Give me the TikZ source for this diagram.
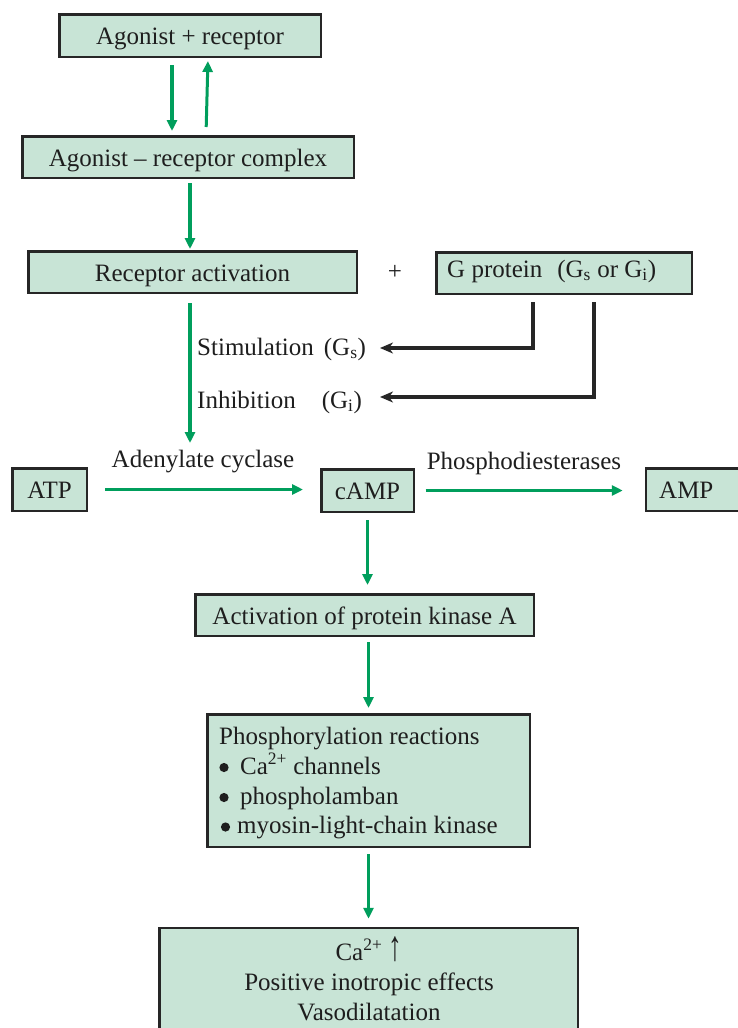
\documentclass[tikz,border=0pt]{standalone}
\usepackage{fontspec}
\setmainfont{Liberation Serif}
\usetikzlibrary{arrows.meta}
\definecolor{boxc}{RGB}{200,228,214}
\definecolor{grn}{RGB}{0,158,92}
\definecolor{bordc}{RGB}{38,38,38}
\definecolor{txtc}{RGB}{30,30,30}
\newcommand{\tallup}{\scalebox{1.1}[1.7]{↑}}
\begin{document}
\begin{tikzpicture}[x=1pt,y=-1pt, font=\fontsize{25}{30}\selectfont, text=txtc,
 box/.style={draw=bordc, line width=2.5pt, fill=boxc, inner sep=0pt, text height=18pt, text depth=0pt},
 garrow/.style={draw=grn, line width=3.5pt, -{Triangle[length=11pt,width=10pt]}},
 karrow/.style={draw=bordc, line width=3.5pt, -{Stealth[length=13pt,width=11pt,inset=4pt]}},
 lbl/.style={inner sep=0pt, anchor=base west},
 clbl/.style={inner sep=0pt, anchor=base},
 bul/.style={fill=txtc}]
\useasboundingbox[fill=white] (0,0) rectangle (737,1028);

\node[box, minimum width=261.5pt, minimum height=42.5pt] (b1) at (190,35.5) {Agonist + receptor};
\node[box, minimum width=331.5pt, minimum height=41.5pt] (b2) at (188,157) {Agonist – receptor complex};
\node[box, minimum width=328.5pt, minimum height=41.5pt] (b3) at (192.5,272) {Receptor activation};
\node[clbl] (plus) at (395,279) {+};
\node[box, minimum width=255.5pt, minimum height=41.5pt] (gp) at (564,273) {};
\node[lbl] (gpt) at (447,277) {G protein\hspace{15pt}(G\textsubscript{s} or G\textsubscript{i})};

\node[lbl] (stim) at (197,355) {Stimulation\hspace{10pt}(G\textsubscript{s})};
\node[lbl] (inh) at (197,408) {Inhibition\hspace{26pt}(G\textsubscript{i})};
\coordinate (acend) at (190,443);
\coordinate (stip) at (380,348);
\coordinate (itip) at (380,397);

\node[box, minimum width=74.5pt, minimum height=42.5pt] (atp) at (49.5,489.5) {ATP};
\node[box, minimum width=92.5pt, minimum height=42.5pt] (camp) at (367.5,490.5) {cAMP};
\node[box, minimum width=134pt, minimum height=42.5pt] (amp) at (713,489.5) {};
\node[lbl] (ampt) at (659,498.5) {AMP};
\node[clbl] (ac) at (203,467) {Adenylate cyclase};
\node[clbl] (pde) at (524,469) {Phosphodiesterases};

\node[box, minimum width=338.5pt, minimum height=41.5pt] (pka) at (364.5,615) {Activation of protein kinase A};
\node[box, minimum width=322.5pt, minimum height=132.5pt] (phos) at (368.5,780.5) {};
\node[lbl] (p1) at (219,744) {Phosphorylation reactions};
\fill[bul] (224,767.5) circle (4.6pt);
\node[lbl] (p2) at (240,774) {Ca\textsuperscript{2+} channels};
\fill[bul] (224,797.5) circle (4.6pt);
\node[lbl] (p3) at (240,804) {phospholamban};
\fill[bul] (225.5,827) circle (4.6pt);
\node[lbl] (p4) at (237,833) {myosin-light-chain kinase};

\node[box, minimum width=418.5pt, minimum height=132pt] (eff) at (368.5,994) {};
\node[clbl] (e1) at (369,960) {Ca\textsuperscript{2+} \tallup};
\node[clbl] (e2) at (369,990) {Positive inotropic effects};
\node[clbl] (e3) at (369,1020) {Vasodilatation};

\draw[garrow, shorten <=7pt, shorten >=4pt] ([xshift=-18pt]b1.south) -- ([xshift=-16pt]b2.north);
\draw[garrow, line width=3pt, shorten <=8pt, shorten >=3pt] ([xshift=18pt]b2.north) -- ([xshift=18pt]b1.south);
\draw[garrow, shorten <=4pt, shorten >=1pt] ([xshift=2pt]b2.south) -- ([xshift=-2.5pt]b3.north);
\draw[garrow, shorten <=9pt] ([xshift=-2.5pt]b3.south) -- (acend);
\draw[karrow] ([xshift=-31pt,yshift=-7pt]gp.south) |- (stip);
\draw[karrow] ([xshift=30pt,yshift=-7pt]gp.south) |- (itip);
\draw[garrow, shorten <=17pt, shorten >=17pt] (atp.east) -- (atp.east -| camp.west);
\draw[garrow, shorten <=10.5pt, shorten >=22pt] (camp.east) -- (camp.east -| amp.west);
\draw[garrow, shorten <=7pt, shorten >=8pt] (camp.south) -- (camp.south |- pka.north);
\draw[garrow, shorten <=5pt, shorten >=5pt] (phos.north |- pka.south) -- (phos.north);
\draw[garrow, shorten <=6pt, shorten >=8pt] (eff.north |- phos.south) -- (eff.north);
\end{tikzpicture}
\end{document}
